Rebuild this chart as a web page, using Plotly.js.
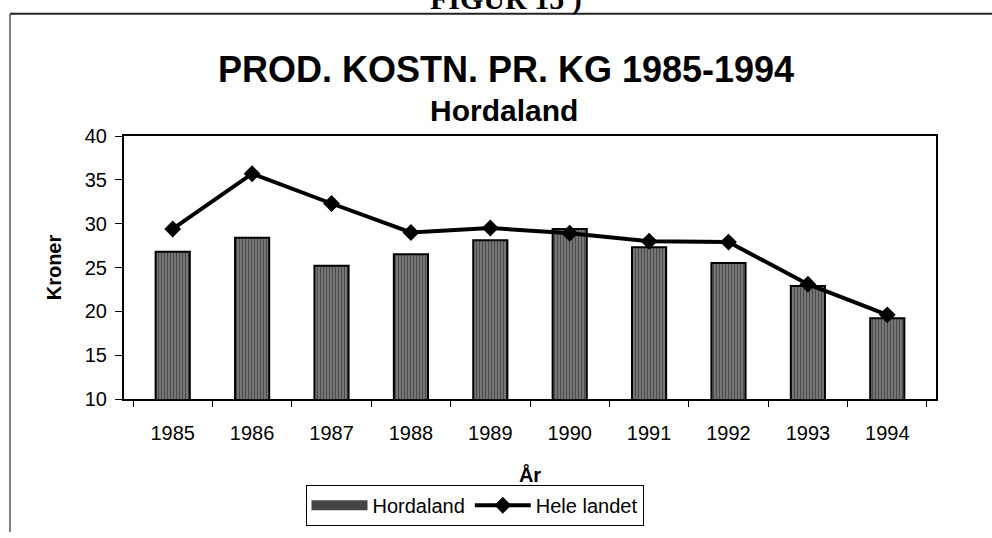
<!DOCTYPE html>
<html>
<head>
<meta charset="utf-8">
<script src="https://cdn.plot.ly/plotly-3.0.1.min.js"></script>
<style>
  html, body { margin: 0; padding: 0; background: #ffffff; }
  #chart { width: 992px; height: 538px; }
</style>
</head>
<body>
<div id="chart"></div>
<script>
// ---- Data ----
const years = ['1985', '1986', '1987', '1988', '1989', '1990', '1991', '1992', '1993', '1994'];
const hordaland = [26.8, 28.4, 25.2, 26.5, 28.1, 29.4, 27.3, 25.5, 22.9, 19.2];
const heleLandet = [29.4, 35.7, 32.3, 29.0, 29.5, 28.9, 28.0, 27.9, 23.1, 19.6];
const yTicks = [10, 15, 20, 25, 30, 35, 40];
const seriesNames = ['Hordaland', 'Hele landet'];

const FONT = 'Liberation Sans, Arial, sans-serif';

// plot area in pixels (for converting decoration positions to paper coords)
const L = 124, R = 936, T = 136, B = 403, W = 992, H = 538;
const px = v => (v - L) / (R - L);
const py = v => (B - v) / (B - T);

const traces = [
  {
    type: 'bar',
    name: seriesNames[0],
    x: years,
    y: hordaland,
    showlegend: false,
    legendgroup: 'h',
    marker: {
      color: '#5e5e5e',
      line: { color: '#000000', width: 2 },
      pattern: { shape: '|', fgcolor: '#111111', bgcolor: '#848484', size: 3, solidity: 0.5, fillmode: 'overlay' }
    }
  },
  {
    // legend swatch for the bar series (wide striped key as in the original)
    type: 'scatter',
    mode: 'lines',
    name: seriesNames[0],
    legendgroup: 'h',
    x: [null],
    y: [null],
    line: { color: '#444444', width: 13 },
    hoverinfo: 'skip'
  },
  {
    type: 'scatter',
    mode: 'lines+markers',
    name: seriesNames[1],
    x: years,
    y: heleLandet,
    line: { color: '#000000', width: 4 },
    marker: { symbol: 'diamond', size: 13, color: '#000000' }
  }
];

const layout = {
  width: W,
  height: H,
  margin: { l: L, r: W - R, t: T, b: H - B, pad: 0 },
  paper_bgcolor: '#ffffff',
  plot_bgcolor: '#ffffff',
  font: { family: FONT, size: 20, color: '#000000' },
  showlegend: true,
  bargap: 0.57,
  title: {
    text: '<b>PROD. KOSTN. PR. KG 1985-1994</b>',
    font: { family: FONT, size: 36, color: '#000000' },
    x: 506 / W,
    xanchor: 'center',
    y: 1 - 69 / H,
    yanchor: 'middle',
    xref: 'container',
    yref: 'container'
  },
  xaxis: {
    type: 'category',
    categoryorder: 'array',
    categoryarray: years,
    showline: true,
    linecolor: '#000000',
    linewidth: 2,
    mirror: true,
    ticks: 'outside',
    tickson: 'boundaries',
    ticklen: 6,
    tickwidth: 1,
    tickcolor: '#000000',
    ticklabelstandoff: 15,
    showgrid: false,
    zeroline: false,
    tickfont: { family: FONT, size: 20 },
    title: { text: '<b>År</b>', font: { family: FONT, size: 20 }, standoff: 25 }
  },
  yaxis: {
    range: [10, 40],
    tickmode: 'array',
    tickvals: yTicks,
    ticktext: yTicks.map(String),
    showline: true,
    linecolor: '#000000',
    linewidth: 2,
    mirror: true,
    ticks: 'outside',
    ticklen: 7,
    tickwidth: 1,
    tickcolor: '#000000',
    ticklabelstandoff: 4,
    showgrid: false,
    zeroline: false,
    tickfont: { family: FONT, size: 20 },
    title: { text: '<b>Kroner</b>', font: { family: FONT, size: 20 }, standoff: 18 }
  },
  legend: {
    orientation: 'h',
    x: px(474.5),
    xanchor: 'center',
    y: py(490),
    yanchor: 'top',
    bordercolor: '#000000',
    borderwidth: 1,
    bgcolor: '#ffffff',
    font: { family: FONT, size: 20 },
    itemwidth: 56,
    traceorder: 'normal'
  },
  annotations: [
    {
      text: '<b>Hordaland</b>',
      xref: 'paper', yref: 'paper',
      x: px(504), y: py(110.5),
      xanchor: 'center', yanchor: 'middle',
      showarrow: false,
      font: { family: FONT, size: 30, color: '#000000' }
    },
    {
      text: '<b>FIGUR 15 )</b>',
      xref: 'paper', yref: 'paper',
      x: px(506), y: py(16),
      xanchor: 'center', yanchor: 'bottom',
      showarrow: false,
      font: { family: 'Liberation Serif, Times New Roman, serif', size: 30, color: '#000000' }
    }
  ],
  shapes: [
    { type: 'line', xref: 'paper', yref: 'paper', x0: px(10), x1: px(992), y0: py(12), y1: py(12), line: { color: '#222222', width: 2 } },
    { type: 'line', xref: 'paper', yref: 'paper', x0: px(10), x1: px(10), y0: py(12), y1: py(538), line: { color: '#555555', width: 1.5 } }
  ]
};

Plotly.newPlot('chart', traces, layout, { displayModeBar: false, staticPlot: true });
</script>
</body>
</html>
